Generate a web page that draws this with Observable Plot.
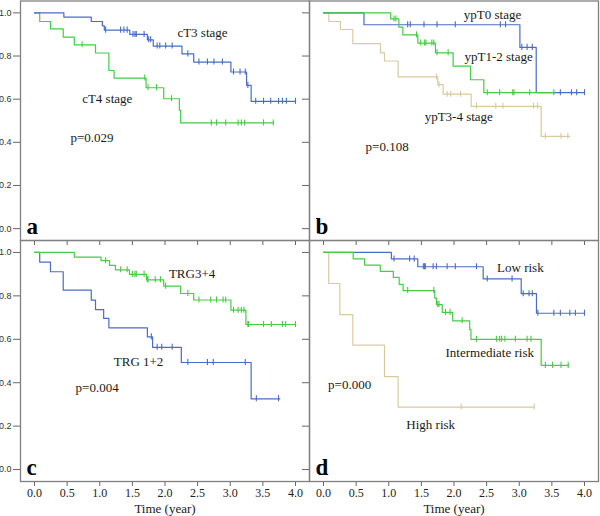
<!DOCTYPE html>
<html><head><meta charset="utf-8">
<script src="https://cdn.jsdelivr.net/npm/d3@7"></script>
<script src="https://cdn.jsdelivr.net/npm/@observablehq/plot@0.6"></script>
<style>
body{margin:0;background:#fff;}
#fig{position:relative;width:600px;height:516px;overflow:hidden;background:#fff;}
#fig svg{position:absolute;}
</style></head><body><div id="fig"></div>
<script>
// ---- axes ----
const xTicks = [0, 0.5, 1, 1.5, 2, 2.5, 3, 3.5, 4];
const yTicks = [0, 0.2, 0.4, 0.6, 0.8, 1.0];
const xTitle = "Time (year)";

// ---- panel a ----
const cT3Times = [0, 0.45, 0.87, 1.04, 1.07, 1.46, 1.73, 1.82, 2.26, 2.44, 3.01, 3.25, 3.32, 4.0];
const cT3Surv  = [1, 0.98, 0.96, 0.94, 0.92, 0.90, 0.875, 0.846, 0.81, 0.772, 0.726, 0.664, 0.59, 0.59];
const cT3Censor = [1.09, 1.32, 1.37, 1.42, 1.51, 1.54, 1.56, 1.68, 1.75, 1.78, 1.88, 1.92, 2.01, 2.11, 2.35, 2.52, 2.65, 2.75, 2.88, 3.05, 3.15, 3.23, 3.27, 3.39, 3.51, 3.62, 3.74, 3.80, 3.86, 4.0];
const cT4Times = [0, 0.08, 0.245, 0.44, 0.61, 0.935, 1.14, 1.22, 1.71, 1.98, 2.22, 2.24, 3.66];
const cT4Surv  = [1, 0.96, 0.926, 0.888, 0.852, 0.814, 0.733, 0.698, 0.653, 0.602, 0.549, 0.49, 0.49];
const cT4Censor = [0.73, 1.69, 1.74, 1.87, 2.10, 2.71, 2.79, 2.93, 3.12, 3.17, 3.22, 3.51, 3.66];
const aLabels = ["cT3 stage", "cT4 stage", "p=0.029"];
const aLabelX = [2.19, 0.73, 0.55];
const aLabelY = [0.907, 0.60, 0.42];

// ---- panel b ----
const ypT0Times = [0, 0.62, 3.01, 3.26, 4.0];
const ypT0Surv  = [1, 0.945, 0.84, 0.63, 0.63];
const ypT0Censor = [1.29, 1.33, 1.54, 1.74, 2.02, 2.71, 2.79, 3.04, 3.12, 3.20, 3.63, 3.80, 3.88, 4.0];
const ypT12Times = [0, 1.03, 1.155, 1.216, 1.446, 1.716, 1.987, 2.253, 2.457, 3.53];
const ypT12Surv  = [1, 0.972, 0.934, 0.898, 0.86, 0.815, 0.753, 0.69, 0.63, 0.63];
const ypT12Censor = [1.08, 1.11, 1.425, 1.49, 1.55, 1.57, 1.66, 1.69, 1.74, 1.91, 2.51, 2.70, 2.90, 2.92, 3.16, 3.53];
const ypT34Times = [0, 0.082, 0.26, 0.45, 0.874, 0.935, 1.144, 1.752, 1.834, 2.263, 3.336, 3.775];
const ypT34Surv  = [1, 0.96, 0.923, 0.857, 0.815, 0.777, 0.703, 0.667, 0.623, 0.567, 0.428, 0.428];
const ypT34Censor = [1.73, 1.77, 1.895, 1.95, 2.10, 2.345, 2.64, 2.75, 3.22, 3.28, 3.40, 3.64, 3.745];
const bLabels = ["ypT0 stage", "ypT1-2 stage", "ypT3-4 stage", "p=0.108"];
const bLabelX = [2.15, 2.16, 1.55, 0.645];
const bLabelY = [0.992, 0.795, 0.52, 0.379];

// ---- panel c ----
const trg34Times = [0, 0.61, 1.02, 1.15, 1.24, 1.455, 1.715, 1.98, 2.24, 2.44, 3.01, 3.24, 4.0];
const trg34Surv  = [1, 0.978, 0.962, 0.94, 0.92, 0.899, 0.874, 0.845, 0.811, 0.781, 0.734, 0.668, 0.668];
const trg34Censor = [1.09, 1.32, 1.42, 1.50, 1.54, 1.56, 1.68, 1.73, 1.74, 1.85, 1.93, 2.01, 2.35, 2.52, 2.70, 2.79, 2.89, 2.93, 3.05, 3.12, 3.17, 3.21, 3.27, 3.28, 3.51, 3.63, 3.80, 3.85, 4.0];
const trg12Times = [0, 0.08, 0.245, 0.44, 0.87, 0.935, 1.06, 1.14, 1.73, 1.81, 2.25, 3.32, 3.76];
const trg12Surv  = [1, 0.955, 0.911, 0.826, 0.78, 0.737, 0.696, 0.653, 0.611, 0.563, 0.493, 0.326, 0.326];
const trg12Censor = [1.79, 1.88, 1.95, 2.11, 2.35, 2.65, 2.74, 3.23, 3.40, 3.74];
const cLabels = ["TRG3+4", "TRG 1+2", "p=0.004"];
const cLabelX = [2.06, 1.215, 0.63];
const cLabelY = [0.90, 0.496, 0.376];

// ---- panel d ----
const lowTimes = [0, 1.04, 1.445, 2.447, 3.03, 3.264, 4.0];
const lowSurv  = [1, 0.97, 0.934, 0.878, 0.81, 0.72, 0.72];
const lowCensor = [1.08, 1.32, 1.39, 1.53, 1.55, 1.56, 1.68, 1.73, 1.895, 2.02, 2.345, 2.51, 2.89, 3.06, 3.15, 3.20, 3.285, 3.53, 3.63, 3.775, 3.86, 4.0];
const midTimes = [0, 0.455, 0.63, 0.87, 1.07, 1.16, 1.22, 1.705, 1.73, 1.82, 1.98, 2.24, 2.26, 3.336, 3.75];
const midSurv  = [1, 0.97, 0.942, 0.913, 0.885, 0.853, 0.824, 0.79, 0.76, 0.724, 0.685, 0.645, 0.60, 0.48, 0.48];
const midCensor = [1.29, 1.69, 1.75, 1.77, 1.87, 1.94, 2.125, 2.345, 2.65, 2.70, 2.73, 2.78, 2.94, 3.12, 3.18, 3.40, 3.51, 3.64, 3.75];
const highTimes = [0, 0.08, 0.25, 0.45, 0.935, 1.144, 3.23];
const highSurv  = [1, 0.857, 0.714, 0.573, 0.428, 0.288, 0.288];
const highCensor = [2.11, 3.23];
const dLabels = ["Low risk", "Intermediate risk", "p=0.000", "High risk"];
const dLabelX = [2.66, 1.87, 0.07, 1.27];
const dLabelY = [0.927, 0.537, 0.391, 0.206];

// ---- styling ----
const BLUE = "#4a6cc4", GREEN = "#46cc46", TAN = "#d8caa0";
const SERIF = "'Liberation Serif', 'Times New Roman', serif";
const SANS = "'Liberation Sans', Arial, sans-serif";
const XDOM = [-0.2146, 4.2146];
const YDOM = [-0.055, 1.055];

function curveMarks(times, surv, censor, color) {
  const pts = times.map((t, i) => ({t, s: surv[i]}));
  const survAt = t => { let s = surv[0]; for (let i = 0; i < times.length; i++) if (times[i] <= t + 1e-9) s = surv[i]; return s; };
  const cens = censor.map(t => ({t, s: survAt(t)}));
  return [
    Plot.line(pts, {x: "t", y: "s", curve: "step-after", stroke: color, strokeWidth: 1.2}),
    Plot.ruleX(cens, {x: "t", y1: d => d.s - 0.014, y2: d => d.s + 0.014, stroke: color, strokeWidth: 1.1})
  ];
}

function panel({left, top, isLeft, isBottom, curves, labels, lx, ly, letter}) {
  const marginLeft = isLeft ? 20 : 8;
  const marginRight = 1;
  const marginTop = isBottom ? 0 : 0.5;
  const marginBottom = isBottom ? 35 : 6;
  const frameH = isBottom ? 241 : 239.5;
  const width = marginLeft + 289 + marginRight;
  const height = marginTop + frameH + marginBottom;
  const marks = [];
  curves.forEach(c => marks.push(...curveMarks(...c)));
  marks.push(
    Plot.text(labels, {x: (d, i) => lx[i], y: (d, i) => ly[i], text: d => d, textAnchor: "start", lineAnchor: "middle", fontSize: 13, fontFamily: SERIF, fill: "#1a1a1a"}),
    Plot.text([letter], {frameAnchor: "bottom-left", dx: 6, dy: -7, lineAnchor: "bottom", textAnchor: "start", fontSize: 23, fontWeight: "bold", fontFamily: SERIF, fill: "#000"}),
    Plot.axisX({ticks: xTicks, tickSize: 5, tickPadding: 2, tickFormat: d => d.toFixed(1), stroke: "#666", fill: isBottom ? "#222" : "none", fontSize: 12, fontFamily: SERIF, label: null}),
    Plot.axisY({ticks: yTicks, tickSize: 7, tickPadding: 2, tickFormat: d => d.toFixed(1), stroke: "#666", fill: isLeft ? "#333" : "none", fontSize: 9, fontFamily: SANS, label: null}),
    Plot.frame({stroke: "#808080", strokeWidth: 1.3})
  );
  if (isBottom) {
    marks.push(Plot.text([xTitle], {frameAnchor: "bottom", dy: 31, lineAnchor: "bottom", fontSize: 13, fontFamily: SERIF, fill: "#1a1a1a"}));
  }
  const svg = Plot.plot({
    width, height, marginLeft, marginRight, marginTop, marginBottom,
    x: {domain: XDOM, axis: null},
    y: {domain: YDOM, axis: null},
    style: {background: "transparent", overflow: "visible"},
    marks
  });
  svg.style.left = left + "px";
  svg.style.top = top + "px";
  document.getElementById("fig").appendChild(svg);
}

panel({left: 0, top: 0, isLeft: true, isBottom: false, letter: "a",
  curves: [[cT4Times, cT4Surv, cT4Censor, GREEN], [cT3Times, cT3Surv, cT3Censor, BLUE]],
  labels: aLabels, lx: aLabelX, ly: aLabelY});
panel({left: 301, top: 0, isLeft: false, isBottom: false, letter: "b",
  curves: [[ypT34Times, ypT34Surv, ypT34Censor, TAN], [ypT0Times, ypT0Surv, ypT0Censor, BLUE], [ypT12Times, ypT12Surv, ypT12Censor, GREEN]],
  labels: bLabels, lx: bLabelX, ly: bLabelY});
panel({left: 0, top: 240, isLeft: true, isBottom: true, letter: "c",
  curves: [[trg12Times, trg12Surv, trg12Censor, BLUE], [trg34Times, trg34Surv, trg34Censor, GREEN]],
  labels: cLabels, lx: cLabelX, ly: cLabelY});
panel({left: 301, top: 240, isLeft: false, isBottom: true, letter: "d",
  curves: [[highTimes, highSurv, highCensor, TAN], [lowTimes, lowSurv, lowCensor, BLUE], [midTimes, midSurv, midCensor, GREEN]],
  labels: dLabels, lx: dLabelX, ly: dLabelY});
</script>
</body></html>
